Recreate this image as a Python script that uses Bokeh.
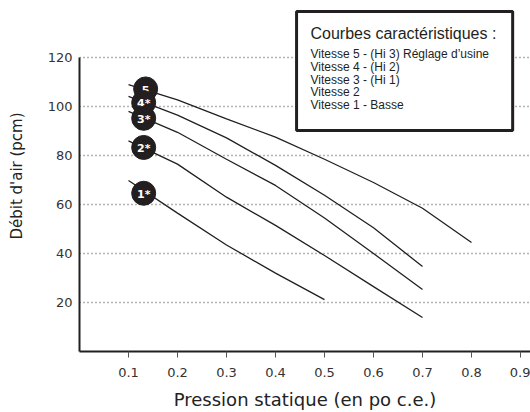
from bokeh.plotting import figure
from bokeh.models import FixedTicker, Range1d, BoxAnnotation, Label
from bokeh.core.properties import value
from bokeh.embed import file_html
from bokeh.resources import INLINE

# ---- data ----
x5 = [0.1, 0.2, 0.3, 0.4, 0.5, 0.6, 0.7, 0.8]
v5 = [109.0, 102.7, 95.0, 87.5, 78.5, 69.0, 58.5, 44.5]
x4 = [0.1, 0.2, 0.3, 0.4, 0.5, 0.6, 0.7]
v4 = [104.2, 96.5, 87.2, 76.0, 63.8, 50.5, 34.7]
x3 = [0.1, 0.2, 0.3, 0.4, 0.5, 0.6, 0.7]
v3 = [98.0, 89.5, 78.5, 67.8, 54.5, 40.0, 25.3]
x2 = [0.1, 0.2, 0.3, 0.4, 0.5, 0.6, 0.7]
v2 = [86.0, 76.5, 63.0, 51.5, 39.2, 26.5, 13.9]
x1 = [0.1, 0.2, 0.3, 0.4, 0.5]
v1 = [69.8, 56.5, 43.5, 32.0, 21.2]

speed_labels = ["5", "4*", "3*", "2*", "1*"]
marker_x = [0.135, 0.131, 0.131, 0.131, 0.131]
marker_y = [107.2, 101.6, 95.2, 83.3, 64.6]

x_ticks = [0.1, 0.2, 0.3, 0.4, 0.5, 0.6, 0.7, 0.8, 0.9]
y_ticks = [20, 40, 60, 80, 100, 120]

legend_title = "Courbes caractéristiques :"
legend_lines = [
    "Vitesse 5 - (Hi 3) Réglage d’usine",
    "Vitesse 4 - (Hi 2)",
    "Vitesse 3 - (Hi 1)",
    "Vitesse 2",
    "Vitesse 1 - Basse",
]

INK = "#231f20"

p = figure(width=530, height=412, output_backend="svg", toolbar_location=None,
           x_range=Range1d(0, 0.9204), y_range=Range1d(0, 143.3),
           min_border_left=79, min_border_right=0, min_border_top=0,
           min_border_bottom=61)
p.outline_line_color = None
p.background_fill_color = "white"

# grid
p.xgrid.visible = False
p.ygrid.ticker = FixedTicker(ticks=y_ticks)
p.ygrid.grid_line_color = "#666666"
p.ygrid.grid_line_dash = "1 3"
p.ygrid.grid_line_width = 1.5

# axes
for ax in (p.xaxis[0], p.yaxis[0]):
    ax.axis_line_color = INK
    ax.axis_line_width = 2
    ax.minor_tick_line_color = None
    ax.major_label_text_font = "DejaVu Sans"
    ax.major_label_text_font_size = "13px"
    ax.major_label_text_color = "#333333"
    ax.axis_label_text_font = "DejaVu Sans"
    ax.axis_label_text_font_style = "normal"
    ax.axis_label_text_color = "#222222"

p.xaxis.ticker = FixedTicker(ticks=x_ticks)
p.xaxis.major_tick_out = 6
p.xaxis.major_tick_in = 0
p.xaxis.major_tick_line_color = "#555555"
p.xaxis.major_label_standoff = 10
p.xaxis.axis_label = "Pression statique (en po c.e.)"
p.xaxis.axis_label_text_font_size = "18px"
p.xaxis.axis_label_standoff = 9

p.yaxis.ticker = FixedTicker(ticks=y_ticks)
p.yaxis.bounds = (0, 120)
p.yaxis.major_tick_out = 0
p.yaxis.major_tick_in = 0
p.yaxis.major_label_standoff = 7
p.yaxis.axis_label = "Débit d'air (pcm)"
p.yaxis.axis_label_text_font_size = "15px"
p.yaxis.axis_label_standoff = 19

# curves
for xs, ys in ((x5, v5), (x4, v4), (x3, v3), (x2, v2), (x1, v1)):
    p.line(xs, ys, line_color=INK, line_width=1.3)

# numbered markers
for mx, my, lab in zip(marker_x, marker_y, speed_labels):
    p.scatter([mx], [my], size=24, fill_color=INK, line_color=INK)
    p.text([mx], [my], text=[lab], text_color="white",
           text_font=value("DejaVu Sans"), text_font_style="bold",
           text_font_size="11px", text_align="center",
           text_baseline="middle", y_offset=1)

# legend box
box = BoxAnnotation(left=0.443, right=0.884, bottom=90.2, top=138.8,
                    fill_color="white", fill_alpha=1.0,
                    line_color=INK, line_width=3, line_alpha=1.0)
p.add_layout(box)

LEG_FONT = "Liberation Sans"
p.add_layout(Label(x=0.4714, y=129.8, text=legend_title, text_font=LEG_FONT,
                   text_font_size="16px", text_color=INK,
                   text_baseline="alphabetic"))
for i, line in enumerate(legend_lines):
    p.add_layout(Label(x=0.4714, y=121.3 - i * 5.18, text=line,
                       text_font=LEG_FONT, text_font_size="12px",
                       text_color=INK, text_baseline="alphabetic"))

open("out.html", "w").write(file_html(p, INLINE))
